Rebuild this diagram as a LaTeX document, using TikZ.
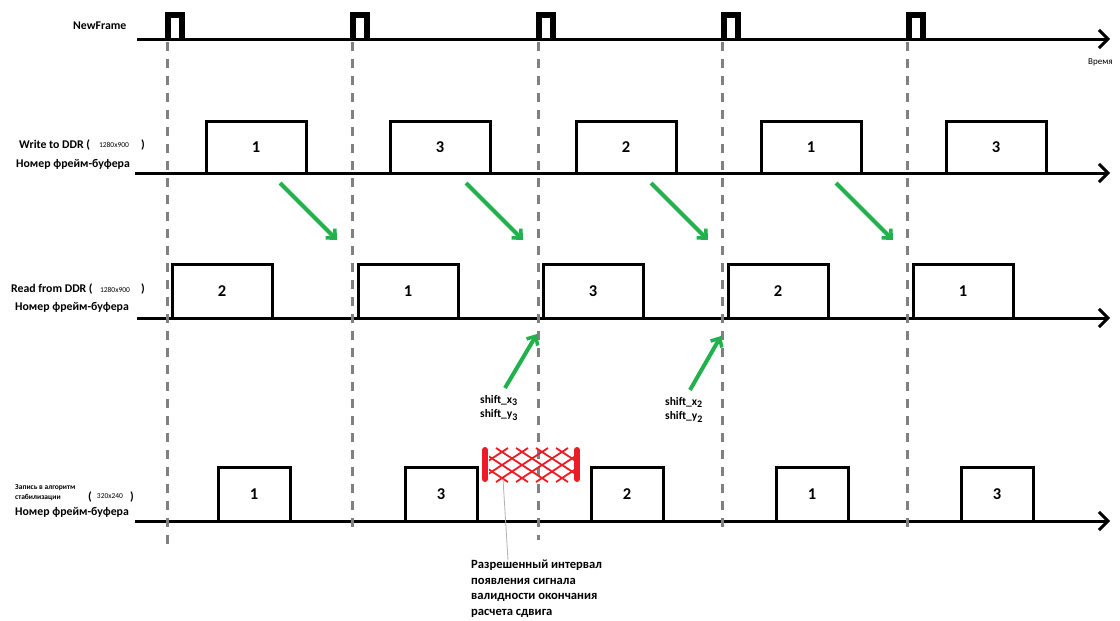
\documentclass[tikz,border=0pt]{standalone}
\usepackage{fontspec}
\setmainfont{Carlito}
\usetikzlibrary{arrows.meta}
\definecolor{gline}{RGB}{34,177,76}
\definecolor{rline}{RGB}{237,28,36}
\definecolor{dgray}{RGB}{128,128,128}
\tikzset{
  baseln/.style={line width=3pt,-{Straight Barb[length=9pt,width=18pt,line width=3pt]}},
  pulse/.style={line width=6pt,line join=miter},
  boxln/.style={line width=3pt,line join=miter},
  gridln/.style={dgray,line width=3pt,dash pattern=on 9pt off 8pt},
  garrow/.style={gline,line width=4pt,-{Straight Barb[length=7pt,width=13pt,line width=3.5pt]}},
  lbl/.style={font=\bfseries\fontsize{11.8}{13}\selectfont,inner sep=0pt},
  tiny/.style={font=\fontsize{7.5}{8.5}\selectfont,inner sep=0pt},
  tinyb/.style={font=\bfseries\fontsize{7.5}{8.5}\selectfont,inner sep=0pt},
  num/.style={font=\bfseries\fontsize{16.5}{18}\selectfont,inner sep=0pt},
  shiftlbl/.style={font=\bfseries\fontsize{11.5}{14.5}\selectfont,align=left,inner sep=0pt,anchor=north west},
}
\newcommand\tbox[5]{% left, right, base, top, label
  \draw[boxln] (#1,#3) -- (#1,#4) -- (#2,#4) -- (#2,#3);
  \node[num] (n#3x#1) at ({(#1+#2)/2},{(#3+#4)/2}) {#5};
}
\newcommand\lowsub[1]{\raisebox{-2.5pt}{\fontsize{10}{10}\selectfont #1}}
\begin{document}
\begin{tikzpicture}[x=1pt,y=-1pt]
\useasboundingbox[fill=white] (0,0) rectangle (1120,621);
% timelines
\coordinate (a0) at (137,39);  \coordinate (a1) at (1110,39);
\coordinate (b0) at (135,173); \coordinate (b1) at (1110,173);
\coordinate (c0) at (137,318); \coordinate (c1) at (1110,318);
\coordinate (d0) at (135,521); \coordinate (d1) at (1110,521);
\draw[baseln] (a0) -- (a1);
\draw[baseln] (b0) -- (b1);
\draw[baseln] (c0) -- (c1);
\draw[baseln] (d0) -- (d1);
% NewFrame pulses
\foreach \x in {168,353,539,724,909}
  \draw[pulse] (\x,39) -- (\x,15) -- (\x+14,15) -- (\x+14,39);
% row 2 boxes
\tbox{206}{306}{173}{121}{1}
\tbox{390}{490}{173}{121}{3}
\tbox{576}{676}{173}{121}{2}
\tbox{761}{861}{173}{121}{1}
\tbox{946}{1046}{173}{121}{3}
% row 3 boxes
\tbox{172}{272}{318}{264}{2}
\tbox{358}{458}{318}{264}{1}
\tbox{543}{643}{318}{264}{3}
\tbox{728}{828}{318}{264}{2}
\tbox{913}{1013}{318}{264}{1}
% row 4 boxes
\tbox{218}{290}{521}{467}{1}
\tbox{405}{477}{521}{467}{3}
\tbox{591}{663}{521}{467}{2}
\tbox{776}{848}{521}{467}{1}
\tbox{961}{1033}{521}{467}{3}
% dashed verticals
\coordinate (g1a) at (167,42); \coordinate (g1b) at (167,548);
\draw[gridln] (g1a) -- (g1b);
\foreach \x/\e in {352/528,538/540,722/530,907/530}{
  \coordinate (ga\x) at (\x,42); \coordinate (gb\x) at (\x,\e);
  \draw[gridln] (ga\x) -- (gb\x);
}
% green arrows write -> read
\foreach \x in {280,466,651,836}{
  \coordinate (s\x) at (\x,183); \coordinate (e\x) at (\x+57,240);
  \draw[garrow] (s\x) -- (e\x);
}
% green arrows up
\coordinate (u1s) at (505,388); \coordinate (u1e) at (537,334);
\coordinate (u2s) at (690,390); \coordinate (u2e) at (721,336);
\draw[garrow] (u1s) -- (u1e);
\draw[garrow] (u2s) -- (u2e);
\node[shiftlbl] (sh3) at (480,395) {shift\_x\lowsub{3}\\shift\_y\lowsub{3}};
\node[shiftlbl] (sh2) at (665,397) {shift\_x\lowsub{2}\\shift\_y\lowsub{2}};
% red hatched interval
\begin{scope}
  \clip (489,447) rectangle (575,482);
  \foreach \i in {0,...,9}{
    \draw[rline,line width=1.8pt] (436+\i*20,482) -- ++(52,-34);
    \draw[rline,line width=1.8pt] (436+\i*20,448) -- ++(52,34);
  }
\end{scope}
\draw[rline,line width=6pt,line cap=round] (485,450) -- (485,479);
\draw[rline,line width=6pt,line cap=round] (577,450) -- (577,479);
\coordinate (hatch) at (503,479);
% note
\node[font=\bfseries\fontsize{12.6}{15.5}\selectfont,align=left,anchor=north west,inner sep=0pt] (note) at (471,560)
  {Разрешенный интервал\\появления сигнала\\валидности окончания\\расчета сдвига};
\coordinate (noteend) at (508,560);
\draw[gray!60,line width=0.8pt] (hatch) -- (noteend);
% left labels
\node[lbl,anchor=west] (nf) at (73,26) {NewFrame};
\node[lbl,anchor=west] (w1) at (19,145) {Write to DDR (};
\node[tiny] (w2) at (114,145) {1280x900};
\node[lbl] (w3) at (143,145) {)};
\node[lbl,anchor=west] (w4) at (16,164) {Номер фрейм-буфера};
\node[lbl,anchor=west] (r1) at (11,289) {Read from DDR (};
\node[tiny] (r2) at (115,290) {1280x900};
\node[lbl] (r3) at (143,289) {)};
\node[lbl,anchor=west] (r4) at (15,307) {Номер фрейм-буфера};
\node[tinyb,anchor=west] (z1) at (15,488) {Запись в алгоритм};
\node[tinyb,anchor=west] (z2) at (15,498) {стабилизации};
\node[lbl] (z3) at (90,497) {(};
\node[tiny] (z4) at (110,496) {320x240};
\node[lbl] (z5) at (132,497) {)};
\node[lbl,anchor=west] (z6) at (15,512) {Номер фрейм-буфера};
\node[font=\fontsize{9}{10}\selectfont,anchor=west,inner sep=0pt] (tm) at (1088,62) {Время};
\end{tikzpicture}
\end{document}
